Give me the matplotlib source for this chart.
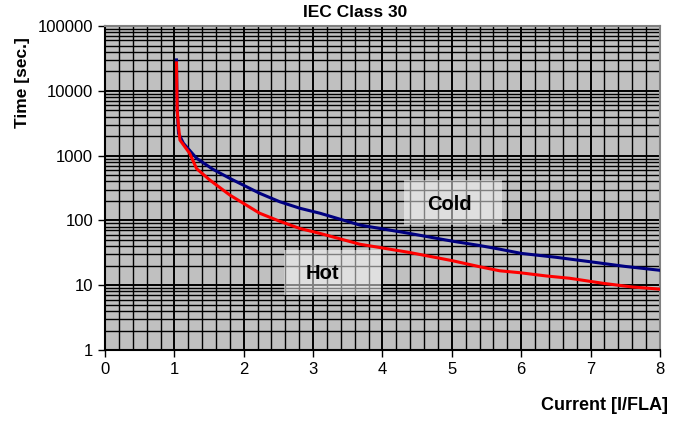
import matplotlib
matplotlib.use('Agg')
import matplotlib.pyplot as plt
from matplotlib.patches import Rectangle
from matplotlib.ticker import FixedLocator, NullFormatter

plt.rcParams['font.family'] = ['Liberation Sans', 'DejaVu Sans']

# curvas de disparo IEC clase 30
cold_x = [1.03, 1.04, 1.06, 1.13, 1.32, 1.55, 1.80, 2.23, 2.52, 2.81, 3.10, 3.67,
          4.0, 4.39, 5.0, 5.4, 5.69, 6.0, 6.5, 7.0, 7.5, 8.0]
cold_y = [30000, 5000, 2200, 1550, 910, 620, 445, 262, 194, 154, 129, 85,
          74, 63, 48, 41, 36, 31, 27, 23, 19.5, 17]

hot_x = [1.03, 1.04, 1.06, 1.08, 1.22, 1.32, 1.51, 1.80, 2.23, 2.52, 2.81, 3.10,
         3.67, 4.39, 5.0, 5.4, 5.69, 5.98, 6.36, 6.7, 7.18, 7.6, 8.0]
hot_y = [27000, 5000, 2790, 1740, 1085, 630, 420, 246, 129, 97, 75, 63,
         43, 32, 24, 19.3, 16.7, 15.6, 13.9, 12.8, 10.7, 9.4, 8.7]

x_ticks = [0, 1, 2, 3, 4, 5, 6, 7, 8]
y_ticks = [1, 10, 100, 1000, 10000, 100000]
y_labels = ['1', '10', '100', '1000', '10000', '100000']

fig = plt.figure(figsize=(6.91, 4.21), dpi=100)
ax = fig.add_axes([0.152, 0.1686, 0.803, 0.7696])
ax.set_facecolor('#c0c0c0')

ax.set_yscale('log')
ax.set_xlim(0, 8)
ax.set_ylim(1, 100000)

ax.set_xticks(x_ticks)
ax.xaxis.set_minor_locator(FixedLocator([i / 5 for i in range(41)]))
ax.set_yticks(y_ticks)
ax.set_yticklabels(y_labels)
ax.yaxis.set_minor_locator(FixedLocator([m * 10 ** d for d in range(5) for m in range(2, 10)]))
ax.yaxis.set_minor_formatter(NullFormatter())

ax.grid(True, which='major', color='black', linewidth=1.4)
ax.grid(True, which='minor', color='black', linewidth=1.0)
ax.set_axisbelow(True)
ax.tick_params(which='minor', length=0)
ax.tick_params(which='major', length=5, width=1, labelsize=12, color='black')

ax.spines['left'].set_color('black')
ax.spines['bottom'].set_color('black')
ax.spines['top'].set_color('#808080')
ax.spines['right'].set_color('#808080')
for s in ax.spines.values():
    s.set_linewidth(1.5)

ax.plot(cold_x, cold_y, color='#000080', linewidth=2.2, zorder=3)
ax.plot(hot_x, hot_y, color='#ff0000', linewidth=2.2, zorder=4)

# etiquetas con caja semitransparente
ax.add_patch(Rectangle((0.539, 0.386), 0.176, 0.139, transform=ax.transAxes,
                       facecolor='white', alpha=0.5, edgecolor='none', zorder=5))
ax.text(0.62, 0.45, 'Cold', transform=ax.transAxes, ha='center', va='center',
        fontsize=14.5, fontweight='bold', zorder=6)
ax.add_patch(Rectangle((0.3225, 0.17), 0.1745, 0.139, transform=ax.transAxes,
                       facecolor='white', alpha=0.5, edgecolor='none', zorder=5))
ax.text(0.391, 0.235, 'Hot', transform=ax.transAxes, ha='center', va='center',
        fontsize=14.5, fontweight='bold', zorder=6)

fig.text(0.514, 0.97, 'IEC Class 30', ha='center', va='center', fontsize=12.5, fontweight='bold')
fig.text(0.032, 0.805, 'Time [sec.]', ha='center', va='center', rotation=90,
         fontsize=12.5, fontweight='bold')
fig.text(0.967, 0.038, 'Current [I/FLA]', ha='right', va='center', fontsize=13, fontweight='bold')

plt.savefig('out.png', dpi=100)
